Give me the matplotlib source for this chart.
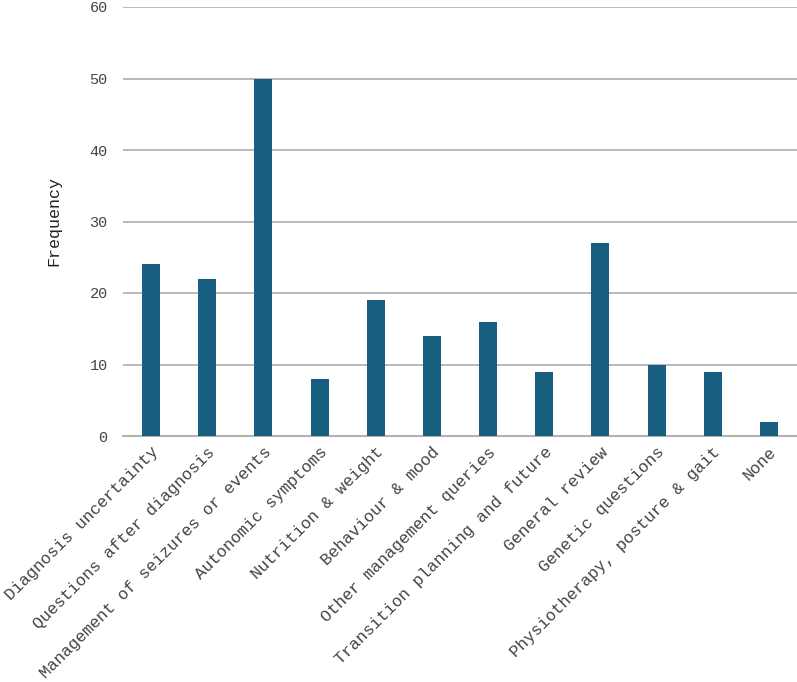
import matplotlib.pyplot as plt

categories = ['Diagnosis uncertainty', 'Questions after diagnosis',
              'Management of seizures or events', 'Autonomic symptoms',
              'Nutrition & weight', 'Behaviour & mood',
              'Other management queries', 'Transition planning and future',
              'General review', 'Genetic questions',
              'Physiotherapy, posture & gait', 'None']
frequency = [24, 22, 50, 8, 19, 14, 16, 9, 27, 10, 9, 2]

plt.rcParams['font.family'] = ['Liberation Mono', 'DejaVu Sans Mono']

fig = plt.figure(figsize=(7.97, 6.82), dpi=100)
ax = fig.add_axes([123 / 797, 1 - 436 / 682, 1 - 123 / 797, (436 - 7) / 682])

x = range(len(categories))
ax.bar(x, frequency, width=0.32, color='#175e80', zorder=3)

ax.set_ylim(0, 60)
ax.set_xlim(-0.5, len(categories) - 0.5)
ax.set_yticks(range(0, 61, 10))
ax.yaxis.grid(True, color='#b3b3b3', linewidth=1.3, zorder=0)
ax.set_axisbelow(True)
for s in ['top', 'right', 'left']:
    ax.spines[s].set_visible(False)
ax.spines['bottom'].set_color('#b3b3b3')
ax.spines['bottom'].set_linewidth(1.5)
ax.tick_params(axis='both', length=0, colors='#444444')
ax.tick_params(axis='y', pad=11, labelsize=11)
ax.tick_params(axis='x', pad=6, labelsize=12)
ax.set_xticks(list(x))
ax.set_xticklabels(categories, rotation=45, ha='right', rotation_mode='anchor')
ax.set_ylabel('Frequency', fontsize=12, color='#222222', labelpad=20)

fig.savefig('out.png', dpi=100)
